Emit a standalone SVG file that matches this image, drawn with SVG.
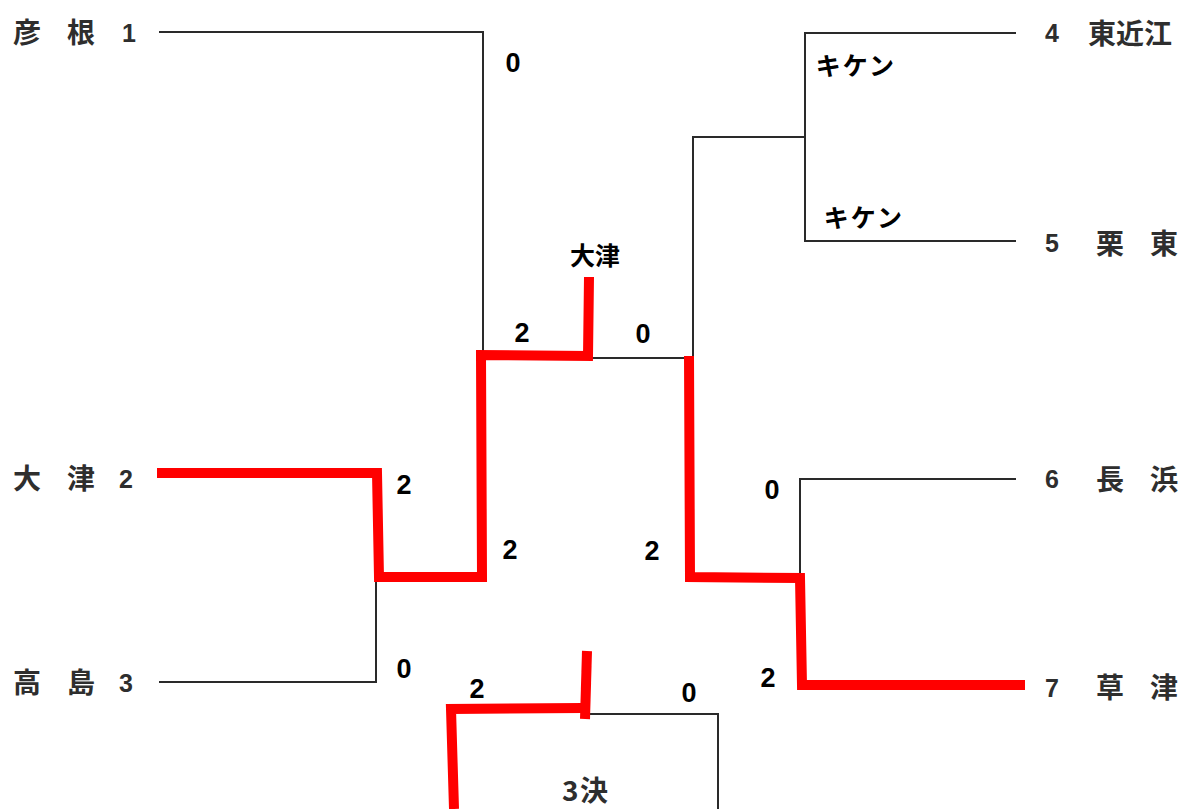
<svg xmlns="http://www.w3.org/2000/svg" width="1187" height="809" viewBox="0 0 1187 809">
<style>
.bg{fill:#ffffff}
.ln{fill:none;stroke:#2a2a2a;stroke-width:2;stroke-linecap:square}
.rd{fill:none;stroke:#ff0000;stroke-width:10;stroke-linejoin:miter;stroke-linecap:butt}
.nm{font-family:"Noto Sans CJK JP","Noto Sans",sans-serif;font-size:28px;fill:#2e2e2e;font-weight:bold}
.num{font-family:"Liberation Sans","DejaVu Sans",sans-serif;font-size:25px;fill:#2e2e2e;font-weight:bold}
.sc{font-family:"Liberation Sans","Noto Sans",sans-serif;font-size:27px;font-weight:bold;fill:#000}
.jp{font-family:"Noto Sans CJK JP",sans-serif;font-size:25px;font-weight:bold;fill:#000}
</style>
<rect class="bg" x="0" y="0" width="1187" height="809"/>
<g id="connectors">
<polyline class="ln" points="160,32 483,32 483,352"/>
<polyline class="ln" points="588,358 693,358 693,137 805,137"/>
<polyline class="ln" points="1015,33 805,33 805,241 1015,241"/>
<polyline class="ln" points="1015,479 800,479 800,577"/>
<polyline class="ln" points="160,682 376,682 376,580"/>
<polyline class="ln" points="586,714 718,714 718,809"/>
<polyline class="rd" points="157,473 377,473 379,577 482,577 481,355 588,356 589,277"/>
<polyline class="rd" points="689,356 690,577 800,578 802,685 1025,685"/>
<polyline class="rd" points="454,809 451,709 583,708"/>
<line class="rd" x1="587" y1="651" x2="585" y2="719"/>
</g>
<g id="team-hikone"><text class="nm" x="13" y="43">彦</text><text class="nm" x="67" y="43">根</text><text class="num" x="122" y="42">1</text></g>
<g id="team-otsu"><text class="nm" x="13" y="489">大</text><text class="nm" x="67" y="489">津</text><text class="num" x="119" y="488">2</text></g>
<g id="team-takashima"><text class="nm" x="13" y="693">高</text><text class="nm" x="67" y="693">島</text><text class="num" x="119" y="692">3</text></g>
<g id="team-higashiomi"><text class="num" x="1045" y="42">4</text><text class="nm" x="1088" y="44">東近江</text></g>
<g id="team-ritto"><text class="num" x="1045" y="252">5</text><text class="nm" x="1096" y="254">栗</text><text class="nm" x="1150" y="254">東</text></g>
<g id="team-nagahama"><text class="num" x="1045" y="488">6</text><text class="nm" x="1096" y="490">長</text><text class="nm" x="1150" y="490">浜</text></g>
<g id="team-kusatsu"><text class="num" x="1045" y="697">7</text><text class="nm" x="1096" y="698">草</text><text class="nm" x="1150" y="698">津</text></g>
<g id="scores">
<text class="sc" x="513" y="72" text-anchor="middle">0</text>
<text class="jp" x="856" y="75" text-anchor="middle" letter-spacing="2">キケン</text>
<text class="jp" x="864" y="227" text-anchor="middle" letter-spacing="2">キケン</text>
<text class="jp" x="595" y="265" text-anchor="middle" font-size="27">大津</text>
<text class="sc" x="522" y="342" text-anchor="middle">2</text>
<text class="sc" x="643" y="343" text-anchor="middle">0</text>
<text class="sc" x="404" y="494" text-anchor="middle">2</text>
<text class="sc" x="510" y="559" text-anchor="middle">2</text>
<text class="sc" x="652" y="560" text-anchor="middle">2</text>
<text class="sc" x="772" y="499" text-anchor="middle">0</text>
<text class="sc" x="404" y="678" text-anchor="middle">0</text>
<text class="sc" x="477" y="698" text-anchor="middle">2</text>
<text class="sc" x="689" y="702" text-anchor="middle">0</text>
<text class="sc" x="768" y="687" text-anchor="middle">2</text>
</g>
<g id="third-place"><text class="nm" x="562" y="801" font-weight="normal" font-size="24">3</text><text class="nm" x="580" y="801" font-size="24">決</text></g>
</svg>
